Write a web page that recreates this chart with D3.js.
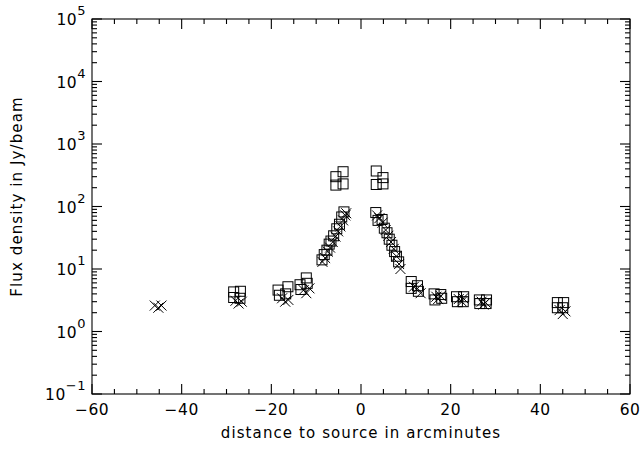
<!DOCTYPE html>
<meta charset="utf-8">
<style>
body { margin: 0; background: #fff; }
svg text { font-family: "DejaVu Sans", sans-serif; fill: #000; }
.tick-label { font-size: 15.5px; letter-spacing: 0.5px; }
.axis-title { font-size: 15px; letter-spacing: 1.1px; }
</style>
<svg width="641" height="451"></svg>
<script src="https://d3js.org/d3.v7.min.js"></script>
<script>

// data: squares and crosses, x in arcmin, y in Jy/beam
var squaresX = [-28.4, -26.9, -28.4, -27.0,
  -18.5, -16.3, -18.2, -16.8,
  -13.6, -12.2, -13.4, -12.0,
  -8.7, -8.2, -7.6, -7.1, -6.7, -6.1, -5.4, -4.8, -4.3, -3.8,
  -5.6, -4.0, -5.6, -4.0,
  3.4, 4.9, 3.4, 4.9,
  3.3, 3.8, 4.7, 5.2, 5.8, 6.3, 6.9, 7.5, 7.9, 8.4,
  11.2, 11.2, 12.6, 12.8,
  16.3, 17.8, 16.5, 18.0,
  21.3, 22.9, 21.5, 22.8,
  26.4, 28.0, 26.5, 27.9,
  43.8, 45.2, 43.8, 45.0];
var squaresY = [4.3, 4.4, 3.5, 3.4,
  4.6, 5.2, 3.8, 4.0,
  5.6, 7.2, 4.7, 5.9,
  14, 17, 20, 25, 28, 34, 44, 52, 68, 82,
  300, 360, 220, 230,
  370, 290, 225, 230,
  80, 60, 62, 45, 38, 30, 24, 19, 16, 13,
  6.3, 4.9, 5.4, 4.4,
  4.0, 3.9, 3.2, 3.4,
  3.6, 3.6, 3.0, 3.0,
  3.2, 3.2, 2.8, 2.8,
  2.9, 2.9, 2.4, 2.4];

var crossesX = [-46.0, -44.5, -45.2,
  -28.0, -26.6, -27.3,
  -17.6, -16.2, -16.9,
  -12.8, -11.5, -12.2,
  -8.6, -8.0, -7.4, -6.9, -6.3, -5.7, -5.1, -4.6, -4.0, -3.5, -3.3,
  3.6, 4.1, 4.8, 5.5, 6.1, 6.7, 7.3, 7.9, 8.5, 8.8,
  11.8, 12.6, 13.3,
  16.8, 17.8, 17.2,
  21.8, 22.8, 22.5,
  26.9, 27.8, 27.3,
  44.3, 45.6, 45.0];
var crossesY = [2.6, 2.6, 2.4,
  3.1, 3.0, 2.8,
  3.4, 3.2, 3.0,
  4.6, 4.9, 4.1,
  13, 15, 19, 22, 27, 33, 40, 48, 60, 72, 78,
  72, 65, 55, 42, 34, 27, 21, 16, 12, 10,
  5.2, 4.9, 4.1,
  3.6, 3.7, 3.3,
  3.3, 3.4, 3.0,
  3.0, 2.9, 2.7,
  2.2, 2.1, 1.9];

var xMajor = [-60, -40, -20, 0, 20, 40, 60];
var yExponents = [-1, 0, 1, 2, 3, 4, 5];

var svg = d3.select("svg");
var pLeft = 92, pRight = 630, pTop = 19, pBottom = 394;

var x = d3.scaleLinear().domain([-60, 60]).range([pLeft, pRight]);
var y = d3.scaleLog().domain([0.1, 1e5]).range([pBottom, pTop]);

var g = svg.append("g").attr("stroke", "#000").attr("stroke-width", 1.1).attr("fill", "none");

// frame
g.append("rect").attr("x", pLeft).attr("y", pTop)
  .attr("width", pRight - pLeft).attr("height", pBottom - pTop);

// x ticks (bottom and top)
var xMinor = d3.range(-60, 61, 5);
xMinor.forEach(function (v) {
  var len = (v % 20 === 0) ? 10 : 5;
  g.append("line").attr("x1", x(v)).attr("x2", x(v)).attr("y1", pBottom).attr("y2", pBottom - len);
  g.append("line").attr("x1", x(v)).attr("x2", x(v)).attr("y1", pTop).attr("y2", pTop + len);
});

// y ticks (left and right), decades + log minors
yExponents.forEach(function (e) {
  for (var m = 1; m <= 9; m++) {
    var v = m * Math.pow(10, e);
    if (v > 1e5) break;
    var len = m === 1 ? 10 : 5;
    g.append("line").attr("x1", pLeft).attr("x2", pLeft + len).attr("y1", y(v)).attr("y2", y(v));
    g.append("line").attr("x1", pRight).attr("x2", pRight - len).attr("y1", y(v)).attr("y2", y(v));
  }
});

// x tick labels
svg.selectAll(".xl").data(xMajor).join("text")
  .attr("class", "tick-label")
  .attr("x", d => x(d))
  .attr("y", pBottom + 21)
  .attr("text-anchor", "middle")
  .text(d => d < 0 ? "\u2212" + Math.abs(d) : d);

// y tick labels 10^n
var yl = svg.selectAll(".yl").data(yExponents).join("text")
  .attr("class", "tick-label")
  .attr("text-anchor", "end")
  .attr("x", pLeft - 6)
  .attr("y", d => y(Math.pow(10, d)) + 6);
yl.append("tspan").text("10");
yl.append("tspan").attr("dy", -10).attr("font-size", 13).text(d => d < 0 ? "\u2212" + Math.abs(d) : d);

// axis titles
svg.append("text").attr("class", "axis-title")
  .attr("x", (pLeft + pRight) / 2).attr("y", 438)
  .attr("text-anchor", "middle")
  .text("distance to source in arcminutes");

svg.append("text").attr("class", "axis-title")
  .attr("transform", "translate(22," + ((pTop + pBottom) / 2 - 10) + ") rotate(-90)")
  .attr("text-anchor", "middle")
  .text("Flux density in Jy/beam");

// markers
var h = 5;
var marks = svg.append("g").attr("stroke", "#000").attr("stroke-width", 1).attr("fill", "none");

marks.selectAll(".sq").data(d3.range(squaresX.length)).join("rect")
  .attr("x", i => x(squaresX[i]) - h)
  .attr("y", i => y(squaresY[i]) - h)
  .attr("width", 2 * h).attr("height", 2 * h);

marks.selectAll(".cr").data(d3.range(crossesX.length)).join("path")
  .attr("d", function (i) {
    var cx = x(crossesX[i]), cy = y(crossesY[i]);
    return "M" + (cx - h) + "," + (cy - h) + "L" + (cx + h) + "," + (cy + h) +
      "M" + (cx - h) + "," + (cy + h) + "L" + (cx + h) + "," + (cy - h);
  });

</script>
